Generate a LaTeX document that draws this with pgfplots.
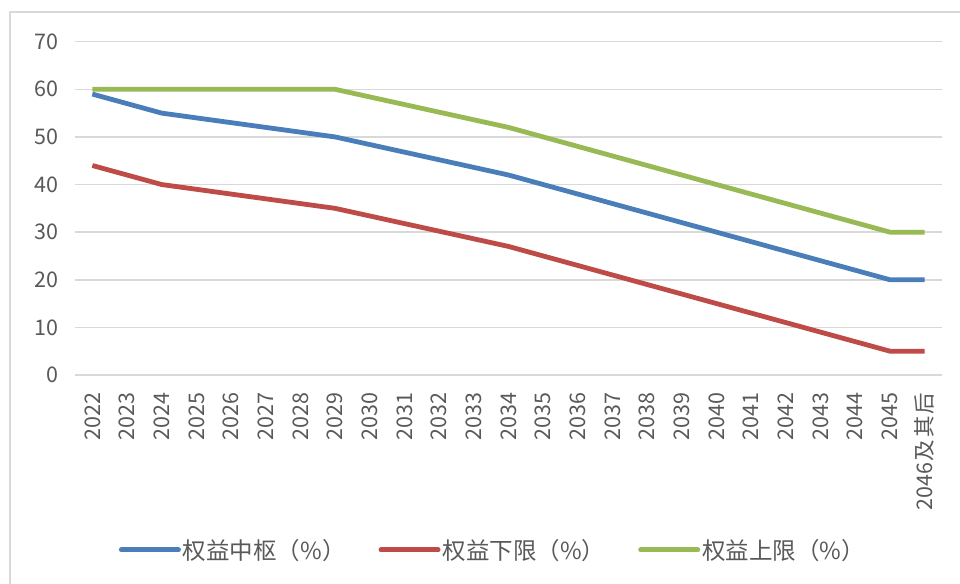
\documentclass[border=0pt]{standalone}
\usepackage{pgfplots}
\pgfplotsset{compat=1.18}
\usepackage{fontspec}
\setmainfont{Noto Sans CJK SC}
\definecolor{cblue}{HTML}{4A7EBB}
\definecolor{cred}{HTML}{BE4B48}
\definecolor{cgreen}{HTML}{98B954}
\definecolor{cgrid}{HTML}{D9D9D9}
\definecolor{ctext}{HTML}{595959}
\begin{document}
\begin{tikzpicture}[x=1pt,y=1pt]
\useasboundingbox (0,0) rectangle (960,583);
\draw[cgrid, line width=1.5pt] (10,-5) -- (10,571) -- (965,571);
\begin{axis}[
  at={(75pt,208pt)}, anchor=south west,
  scale only axis, width=867pt, height=333.3pt,
  xmin=-0.5, xmax=24.5, ymin=0, ymax=70,
  ytick={0,10,...,70},
  xtick={0,...,24},
  xticklabels={2022,2023,2024,2025,2026,2027,2028,2029,2030,2031,2032,2033,2034,2035,2036,2037,2038,2039,2040,2041,2042,2043,2044,2045,{2046\kern2pt 及\kern2pt 其\kern2pt 后}},
  axis line style={draw=none},
  axis x line*=bottom,
  ymajorgrids, grid style={cgrid, line width=1.5pt},
  major tick length=0pt,
  tick label style={font=\fontsize{21.5}{22}\selectfont, text=ctext},
  /pgf/number format/assume math mode=true,
  xticklabel style={rotate=90, anchor=east, xshift=-14pt},
  yticklabel style={xshift=-13pt},
  clip=false,
  legend columns=3,
  legend style={draw=none, fill=none, at={(0.4820,-0.525)}, anchor=center,
    font=\fontsize{23.5}{24}\selectfont, text=ctext,
    /tikz/every even column/.append style={column sep=31pt},
    /tikz/every odd column/.append style={column sep=0pt},
    inner sep=0pt},
  legend image code/.code={\draw[#1, line cap=round, line width=5pt] (0pt,0pt) -- (57pt,0pt);},
]
\draw[cgrid, line width=1.5pt] (axis cs:-0.5,0) -- (axis cs:24.5,0);
\addplot[cblue, line width=4.8pt, line join=round] coordinates {
(0,59)(1,57)(2,55)(3,54)(4,53)(5,52)(6,51)(7,50)(8,48.4)(9,46.8)(10,45.2)(11,43.6)(12,42)(13,40)(14,38)(15,36)(16,34)(17,32)(18,30)(19,28)(20,26)(21,24)(22,22)(23,20)(24,20)};
\addlegendentry{权益中枢（\%）}
\addplot[cred, line width=4.8pt, line join=round] coordinates {
(0,44)(1,42)(2,40)(3,39)(4,38)(5,37)(6,36)(7,35)(8,33.4)(9,31.8)(10,30.2)(11,28.6)(12,27)(13,25)(14,23)(15,21)(16,19)(17,17)(18,15)(19,13)(20,11)(21,9)(22,7)(23,5)(24,5)};
\addlegendentry{权益下限（\%）}
\addplot[cgreen, line width=4.8pt, line join=round] coordinates {
(0,60)(1,60)(2,60)(3,60)(4,60)(5,60)(6,60)(7,60)(8,58.4)(9,56.8)(10,55.2)(11,53.6)(12,52)(13,50)(14,48)(15,46)(16,44)(17,42)(18,40)(19,38)(20,36)(21,34)(22,32)(23,30)(24,30)};
\addlegendentry{权益上限（\%）}
\end{axis}
\end{tikzpicture}
\end{document}
